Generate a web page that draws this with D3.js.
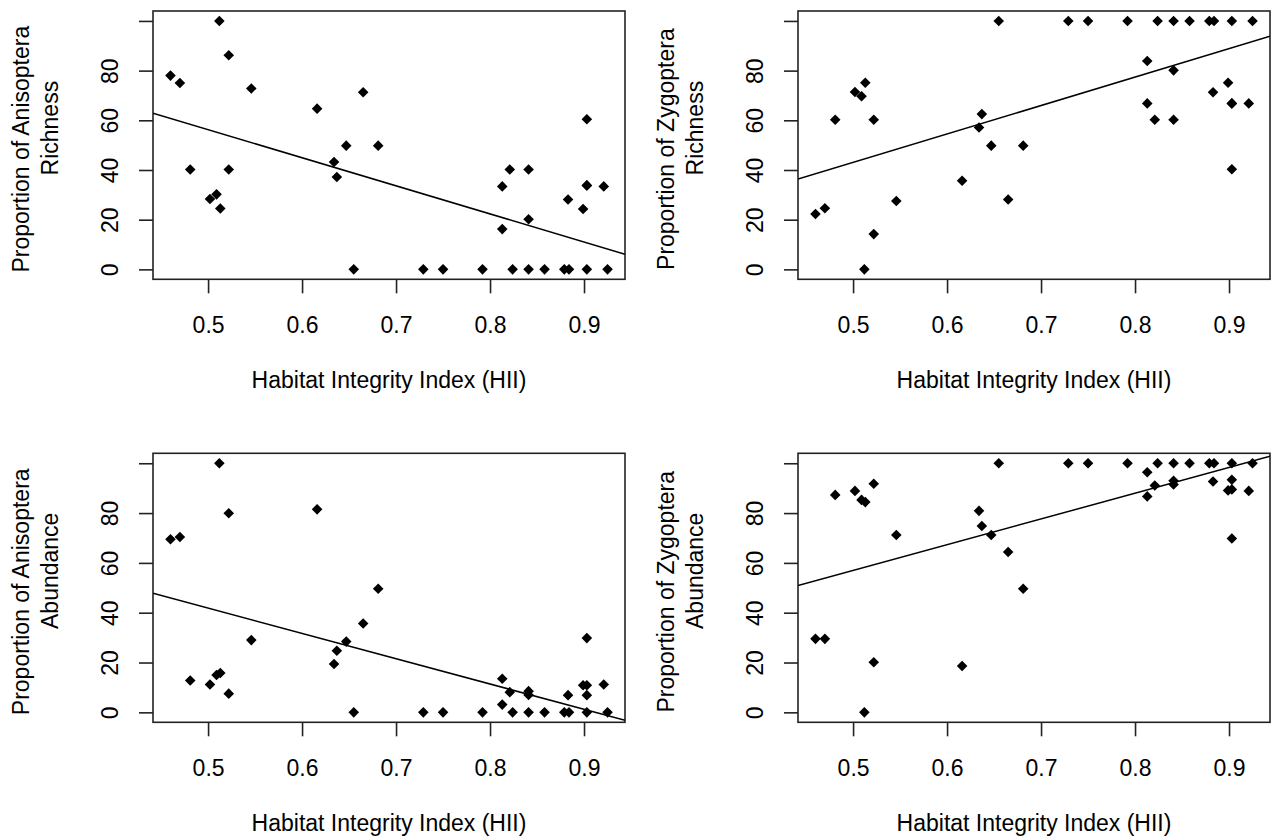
<!DOCTYPE html>
<html>
<head>
<meta charset="utf-8">
<script src="https://cdn.jsdelivr.net/npm/d3@7"></script>
<style>
  body { margin: 0; background: #fff; }
  svg text { font-family: "Liberation Sans", Arial, sans-serif; font-size: 23px; fill: #000; }
</style>
</head>
<body>
<svg id="chart" width="1278" height="839"></svg>
<script>
// Habitat Integrity Index of each site (shared by all four panels)
const hii = [0.460, 0.470, 0.481, 0.502, 0.509, 0.512, 0.513, 0.522, 0.522, 0.546,
  0.616, 0.634, 0.637, 0.647, 0.655, 0.665, 0.681, 0.729, 0.750, 0.792,
  0.813, 0.813, 0.821, 0.824, 0.841, 0.841, 0.841, 0.858, 0.879, 0.884,
  0.883, 0.899, 0.903, 0.903, 0.903, 0.903, 0.921, 0.925];

const anisRichness = [78, 75, 40.2, 28.3, 30.2, 100, 24.5, 86.2, 40.2, 72.8,
  64.7, 43.2, 37.2, 49.8, 0, 71.3, 49.8, 0, 0, 0,
  33.4, 16.2, 40.2, 0, 40.2, 20.2, 0, 0, 0, 0,
  28.1, 24.3, 60.4, 33.8, 0, 33.8, 33.4, 0];

const zygoRichness = [22.3, 24.6, 60.2, 71.4, 69.7, 0, 75.1, 14.2, 60.2, 27.5,
  35.7, 57.1, 62.5, 49.8, 100, 28.1, 49.8, 100, 100, 100,
  66.8, 83.9, 60.2, 100, 60.2, 80.1, 100, 100, 100, 100,
  71.3, 75.1, 40.3, 66.8, 100, 66.8, 66.8, 100];

const anisAbundance = [69.5, 70.4, 12.8, 11.2, 15.0, 100, 15.8, 79.9, 7.5, 29.0,
  81.5, 19.4, 24.7, 28.4, 0, 35.7, 49.6, 0, 0, 0,
  13.5, 3.1, 8.1, 0, 8.5, 7.0, 0, 0, 0, 0,
  6.9, 10.9, 29.8, 10.9, 0, 6.9, 11.2, 0];

const zygoAbundance = [29.5, 29.5, 87.3, 88.9, 85.3, 0, 84.4, 20.1, 91.8, 71.2,
  18.6, 80.9, 74.8, 71.2, 100, 64.4, 49.6, 100, 100, 100,
  86.7, 96.4, 91.1, 100, 91.5, 93.0, 100, 100, 100, 100,
  92.7, 89.1, 69.8, 89.5, 100, 93.4, 88.9, 100];

// fitted lines (intercept, slope) for each panel
const fitIntercept = [112.8, -14.2, 92.65, 5.26];
const fitSlope = [-113.1, 114.5, -101.6, 103.4];

const xTicks = [0.5, 0.6, 0.7, 0.8, 0.9];
const xTickLabels = ['0.5', '0.6', '0.7', '0.8', '0.9'];
const yTicks = [0, 20, 40, 60, 80, 100];
const yTickLabels = ['0', '20', '40', '60', '80', ''];

const xTitle = 'Habitat Integrity Index (HII)';
const yTitles = [
  ['Proportion of Anisoptera', 'Richness'],
  ['Proportion of Zygoptera', 'Richness'],
  ['Proportion of Anisoptera', 'Abundance'],
  ['Proportion of Zygoptera', 'Abundance']
];
const series = [anisRichness, zygoRichness, anisAbundance, zygoAbundance];

// plot regions, R style (mfrow = c(2, 2))
const cols = [[153, 625], [798, 1270]];
const rows = [[11, 279.3], [453.3, 722.3]];

const svg = d3.select('#chart');
const ink = '#222';

// R pads the data range by 4% on both sides
function padded(lo, hi) {
  const d = (hi - lo) * 0.04;
  return [lo - d, hi + d];
}
const xDomain = padded(...d3.extent(hii));
const yDomain = padded(0, 100);

const diamond = d3.symbol().type(d3.symbolSquare).size(56);

series.forEach((values, i) => {
  const [x0, x1] = cols[i % 2];
  const [y0, y1] = rows[Math.floor(i / 2)];
  const x = d3.scaleLinear().domain(xDomain).range([x0, x1]);
  const y = d3.scaleLinear().domain(yDomain).range([y1, y0]);
  const g = svg.append('g');

  const clipId = `clip-${i}`;
  g.append('clipPath').attr('id', clipId)
    .append('rect')
    .attr('x', x0).attr('y', y0)
    .attr('width', x1 - x0).attr('height', y1 - y0);

  // x axis
  const xa = g.append('g')
    .attr('transform', `translate(0,${y1})`)
    .call(d3.axisBottom(x).tickValues(xTicks).tickSize(14).tickSizeOuter(0)
      .tickFormat((d, k) => xTickLabels[k]));
  xa.select('.domain').remove();
  xa.selectAll('line').attr('stroke', ink).attr('stroke-width', 1.6);
  xa.selectAll('text').attr('y', 54).attr('dy', null);

  // y axis, labels parallel to the axis
  const ya = g.append('g')
    .attr('transform', `translate(${x0},0)`)
    .call(d3.axisLeft(y).tickValues(yTicks).tickSize(14).tickSizeOuter(0)
      .tickFormat((d, k) => yTickLabels[k]));
  ya.select('.domain').remove();
  ya.selectAll('line').attr('stroke', ink).attr('stroke-width', 1.6);
  ya.selectAll('text')
    .attr('transform', 'rotate(-90)')
    .attr('x', 0).attr('y', -35).attr('dy', null)
    .attr('text-anchor', 'middle');

  // box
  g.append('rect')
    .attr('x', x0).attr('y', y0)
    .attr('width', x1 - x0).attr('height', y1 - y0)
    .attr('fill', 'none').attr('stroke', ink).attr('stroke-width', 1.6);

  // regression line (abline)
  const fit = v => fitIntercept[i] + fitSlope[i] * v;
  g.append('line')
    .attr('clip-path', `url(#${clipId})`)
    .attr('x1', x(xDomain[0])).attr('y1', y(fit(xDomain[0])))
    .attr('x2', x(xDomain[1])).attr('y2', y(fit(xDomain[1])))
    .attr('stroke', '#000').attr('stroke-width', 1.5);

  // points, pch = 18
  g.append('g').selectAll('path')
    .data(values)
    .join('path')
    .attr('d', diamond)
    .attr('transform', (d, k) => `translate(${x(hii[k])},${y(d)}) rotate(45)`)
    .attr('fill', '#000');

  // axis titles
  g.append('text')
    .attr('x', (x0 + x1) / 2).attr('y', y1 + 108.5)
    .attr('text-anchor', 'middle')
    .text(xTitle);

  const cy = (y0 + y1) / 2;
  g.append('text')
    .attr('transform', `translate(${x0 - 124},${cy + 4}) rotate(-90)`)
    .attr('text-anchor', 'middle')
    .text(yTitles[i][0]);
  g.append('text')
    .attr('transform', `translate(${x0 - 95.5},${cy - 17}) rotate(-90)`)
    .attr('text-anchor', 'middle')
    .text(yTitles[i][1]);
});
</script>
</body>
</html>
